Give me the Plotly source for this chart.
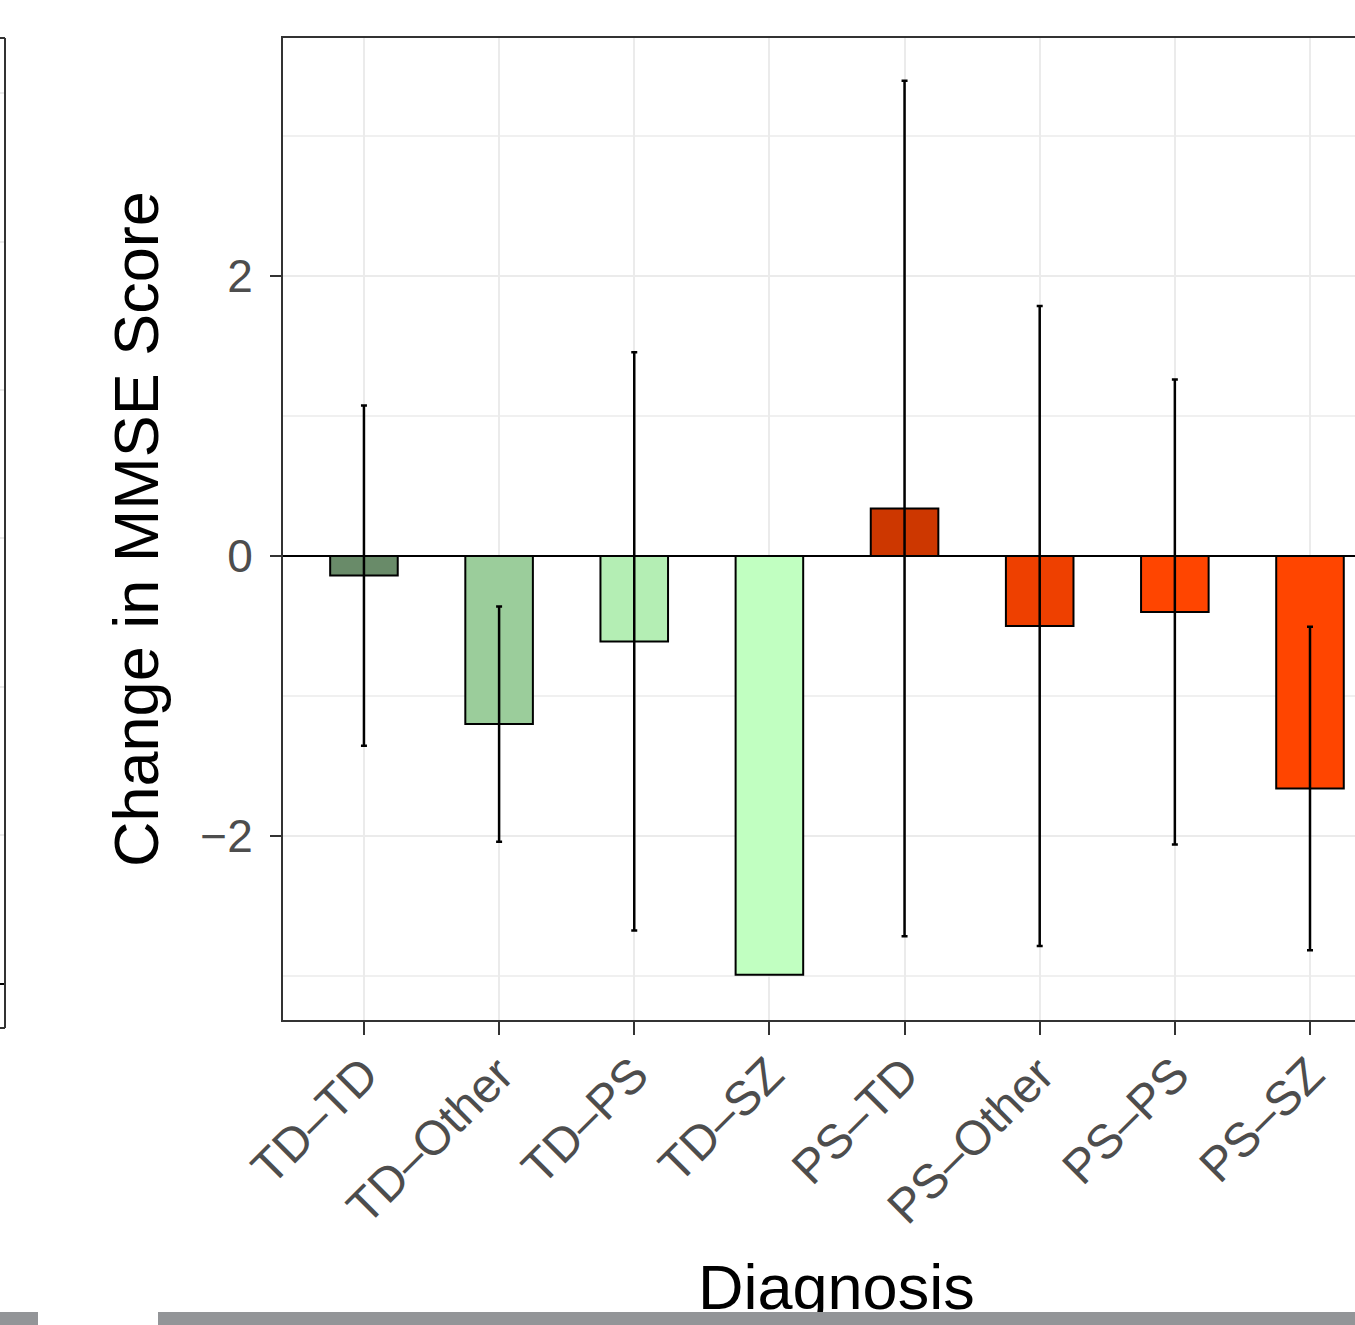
import plotly.graph_objects as go

categories = ["TD–TD", "TD–Other", "TD–PS", "TD–SZ", "PS–TD", "PS–Other", "PS–PS", "PS–SZ"]
mean_change = [-0.14, -1.20, -0.61, -2.99, 0.34, -0.50, -0.40, -1.66]
error_half = [1.215, 0.84, 2.065, None, 3.055, 2.285, 1.66, 1.155]
bar_colors = ["#698b69", "#9bcd9b", "#b4eeb4", "#c1ffc1", "#cd3700", "#ee4000", "#ff4500", "#ff4500"]

W, H = 1355, 1325
L, T, R, B = 283, 38, 0, 305
PW, PH = W - L - R, H - T - B


def px(x):
    return (x - L) / PW


def py(y):
    return (H - B - y) / PH


FONT = "Liberation Sans, Arial, Helvetica, sans-serif"

fig = go.Figure()
fig.add_trace(go.Bar(
    x=categories,
    y=mean_change,
    width=0.5,
    marker=dict(color=bar_colors, line=dict(color="black", width=2)),
    showlegend=False,
))

err_x = [c for c, e in zip(categories, error_half) if e is not None]
err_y = [m for m, e in zip(mean_change, error_half) if e is not None]
err_v = [e for e in error_half if e is not None]
fig.add_trace(go.Scatter(
    x=err_x, y=err_y, mode="markers",
    marker=dict(size=1, opacity=0),
    error_y=dict(type="data", array=err_v, symmetric=True,
                 color="black", thickness=2.5, width=3, visible=True),
    showlegend=False, hoverinfo="skip",
))

shapes = []
# remnant of neighbouring panel at the left edge
shapes.append(dict(type="line", xref="paper", yref="paper", x0=px(5), x1=px(5), y0=py(38), y1=py(1028),
                   line=dict(color="#333333", width=2)))
shapes.append(dict(type="line", xref="paper", yref="paper", x0=px(0), x1=px(5), y0=py(38), y1=py(38),
                   line=dict(color="#333333", width=2)))
shapes.append(dict(type="line", xref="paper", yref="paper", x0=px(0), x1=px(5), y0=py(1028), y1=py(1028),
                   line=dict(color="#333333", width=2)))
for gy in [93, 242, 390, 538, 687, 835]:
    shapes.append(dict(type="line", xref="paper", yref="paper", x0=px(0), x1=px(4), y0=py(gy), y1=py(gy),
                       line=dict(color="#ebebeb", width=2)))
shapes.append(dict(type="line", xref="paper", yref="paper", x0=px(0), x1=px(4), y0=py(984), y1=py(984),
                   line=dict(color="black", width=2)))

annotations = [
    dict(text="Change in MMSE Score", xref="paper", yref="paper", x=px(136), y=0.5,
         xanchor="center", yanchor="middle", textangle=-90, showarrow=False,
         font=dict(family=FONT, size=63, color="black")),
    dict(text="Diagnosis", xref="paper", yref="paper", x=px(836.5), y=py(1287),
         xanchor="center", yanchor="middle", showarrow=False,
         font=dict(family=FONT, size=63, color="black")),
    dict(text=" ", xref="paper", yref="paper", x=px(0), y=py(1325), xanchor="left", yanchor="bottom",
         width=38, height=13, bgcolor="#939598", borderpad=0, borderwidth=0, showarrow=False,
         font=dict(size=6)),
    dict(text=" ", xref="paper", yref="paper", x=px(158), y=py(1325), xanchor="left", yanchor="bottom",
         width=1197, height=13, bgcolor="#939598", borderpad=0, borderwidth=0, showarrow=False,
         font=dict(size=6)),
]

fig.update_layout(
    width=W, height=H,
    margin=dict(l=L, r=R, t=T, b=B, autoexpand=False),
    paper_bgcolor="white", plot_bgcolor="white",
    font=dict(family=FONT),
    shapes=shapes,
    annotations=annotations,
)

fig.update_xaxes(
    range=[-0.599, 7.333],
    showgrid=True, gridcolor="#ebebeb", gridwidth=2,
    showline=True, linecolor="#333333", linewidth=2, mirror=True,
    ticks="outside", ticklen=13, tickwidth=2, tickcolor="#333333",
    tickangle=-45, tickfont=dict(family=FONT, size=48, color="#4d4d4d"),
    ticklabelstandoff=-8,
    automargin=False,
)
fig.update_yaxes(
    range=[-3.314, 3.7],
    tickmode="array", tickvals=[-2, 0, 2],
    showgrid=True, gridcolor="#ebebeb", gridwidth=2,
    minor=dict(tickmode="array", tickvals=[-3, -1, 1, 3], showgrid=True, gridcolor="#f0f0f0", gridwidth=1.5, ticks=""),
    zeroline=True, zerolinecolor="black", zerolinewidth=2,
    showline=True, linecolor="#333333", linewidth=2, mirror=False,
    ticks="outside", ticklen=11, tickwidth=2, tickcolor="#333333",
    tickfont=dict(family=FONT, size=46, color="#4d4d4d"),
    ticklabelstandoff=8,
    automargin=False,
)

fig.write_html("out.html")
